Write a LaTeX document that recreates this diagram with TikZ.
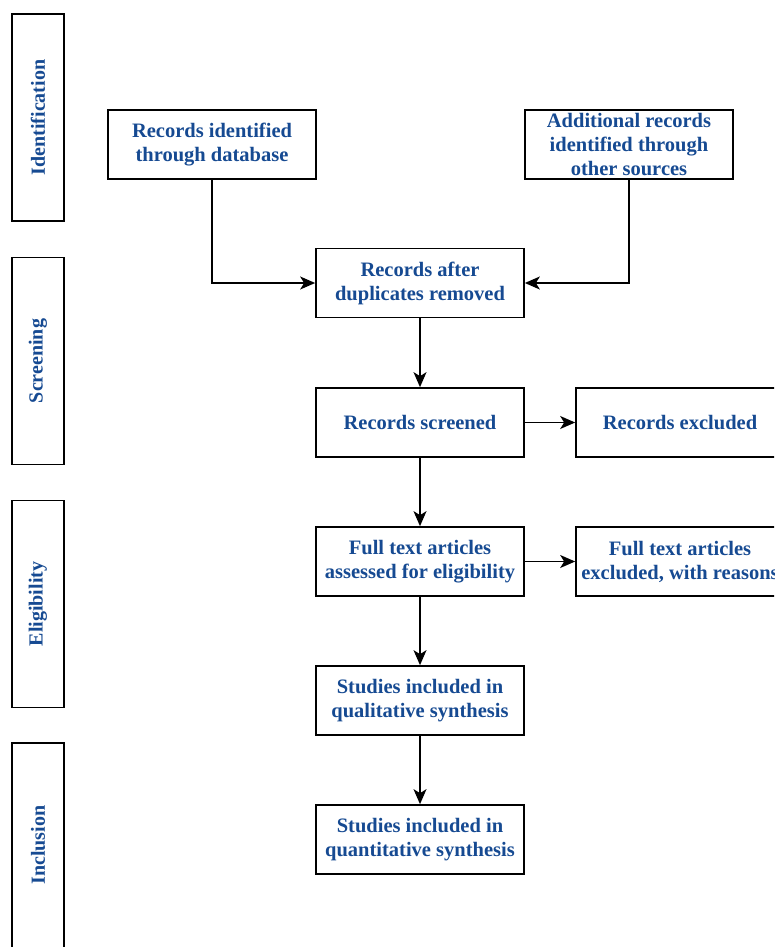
\documentclass[tikz,border=0pt]{standalone}
\usepackage{fontspec}
\setmainfont{Liberation Serif}
\usetikzlibrary{arrows.meta}
\definecolor{txtblue}{RGB}{22,74,146}
\begin{document}
\begin{tikzpicture}[x=1pt,y=-1pt,
  box/.style={draw=black, line width=1.7pt, fill=white, minimum width=208pt, minimum height=69pt,
    align=center, text=txtblue, font=\bfseries\fontsize{20.5}{24}\selectfont, inner sep=2pt},
  side/.style={draw=black, line width=1.7pt, fill=white, rotate=90, minimum width=207pt, minimum height=52pt,
    text=txtblue, font=\bfseries\fontsize{20}{24}\selectfont, inner sep=0pt},
  arr/.style={line width=1.5pt, -{Stealth[length=15pt,width=13pt,inset=4pt]}}]
\useasboundingbox (0,0) rectangle (774,947);
\clip (0,0) rectangle (774,947);
\fill[white] (0,0) rectangle (774,947);
% phase labels
\node[side] (pid) at (38,117.5) {Identification};
\node[side] (pscr) at (38,361) {Screening};
\node[side] (pelig) at (38,604) {Eligibility};
\node[side, minimum width=215pt] (pincl) at (38,850.5) {};
\node[text=txtblue, font=\bfseries\fontsize{20}{24}\selectfont, rotate=90] (pincltxt) at (38,845) {Inclusion};
% main boxes
\node[box] (rec) at (212,144.5) {Records identified\\through database};
\node[box] (add) at (629,144.5) {Additional records\\identified through\\other sources};
\node[box] (dup) at (420,283) {Records after\\duplicates removed};
\node[box] (scrn) at (420,422.5) {Records screened};
\node[box] (excl) at (680,422.5) {Records excluded};
\node[box] (full) at (420,561.5) {Full text articles\\assessed for eligibility};
\node[box] (fexcl) at (680,561.5) {Full text articles\\excluded, with reasons};
\node[box] (qual) at (420,700.5) {Studies included in\\qualitative synthesis};
\node[box] (quant) at (420,839.5) {Studies included in\\quantitative synthesis};
% connectors
\draw[arr] (rec.south) |- (dup.west);
\draw[arr] (add.south) |- (dup.east);
\draw[arr] (dup) -- (scrn);
\draw[arr] (scrn) -- (excl);
\draw[arr] (scrn) -- (full);
\draw[arr] (full) -- (fexcl);
\draw[arr] (full) -- (qual);
\draw[arr] (qual) -- (quant);
\end{tikzpicture}
\end{document}
